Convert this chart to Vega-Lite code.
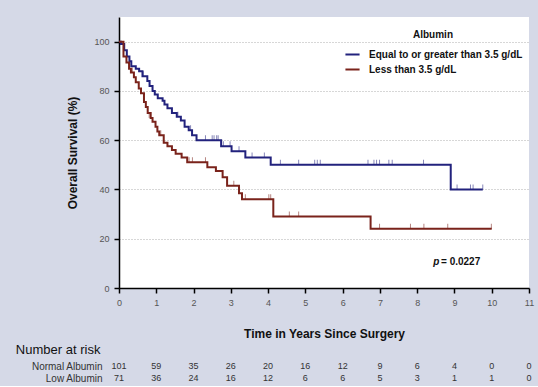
{
  "$schema": "https://vega.github.io/schema/vega-lite/v6.json",
  "background": "#d5d9e7",
  "padding": {"left": 15, "top": 17, "right": 6, "bottom": 2},
  "config": {"font": "Liberation Sans", "view": {"stroke": null}, "concat": {"spacing": 5}},
  "datasets": {
    "curves": [
      {"group": "Equal to or greater than 3.5 g/dL", "t": 0, "s": 100},
      {"group": "Equal to or greater than 3.5 g/dL", "t": 0.05, "s": 99},
      {"group": "Equal to or greater than 3.5 g/dL", "t": 0.14, "s": 96.5},
      {"group": "Equal to or greater than 3.5 g/dL", "t": 0.21, "s": 94},
      {"group": "Equal to or greater than 3.5 g/dL", "t": 0.28, "s": 92},
      {"group": "Equal to or greater than 3.5 g/dL", "t": 0.33, "s": 90},
      {"group": "Equal to or greater than 3.5 g/dL", "t": 0.45, "s": 89},
      {"group": "Equal to or greater than 3.5 g/dL", "t": 0.54, "s": 88},
      {"group": "Equal to or greater than 3.5 g/dL", "t": 0.63, "s": 86},
      {"group": "Equal to or greater than 3.5 g/dL", "t": 0.76, "s": 84},
      {"group": "Equal to or greater than 3.5 g/dL", "t": 0.82, "s": 82},
      {"group": "Equal to or greater than 3.5 g/dL", "t": 0.9, "s": 80},
      {"group": "Equal to or greater than 3.5 g/dL", "t": 0.96, "s": 78.5},
      {"group": "Equal to or greater than 3.5 g/dL", "t": 1.04, "s": 77},
      {"group": "Equal to or greater than 3.5 g/dL", "t": 1.17, "s": 76},
      {"group": "Equal to or greater than 3.5 g/dL", "t": 1.22, "s": 74.5},
      {"group": "Equal to or greater than 3.5 g/dL", "t": 1.3, "s": 73},
      {"group": "Equal to or greater than 3.5 g/dL", "t": 1.42, "s": 71},
      {"group": "Equal to or greater than 3.5 g/dL", "t": 1.55, "s": 69.5},
      {"group": "Equal to or greater than 3.5 g/dL", "t": 1.66, "s": 68},
      {"group": "Equal to or greater than 3.5 g/dL", "t": 1.76, "s": 65.5},
      {"group": "Equal to or greater than 3.5 g/dL", "t": 1.87, "s": 64},
      {"group": "Equal to or greater than 3.5 g/dL", "t": 1.96, "s": 62},
      {"group": "Equal to or greater than 3.5 g/dL", "t": 2.08, "s": 60},
      {"group": "Equal to or greater than 3.5 g/dL", "t": 2.74, "s": 57.5},
      {"group": "Equal to or greater than 3.5 g/dL", "t": 3.02, "s": 55.5},
      {"group": "Equal to or greater than 3.5 g/dL", "t": 3.39, "s": 53},
      {"group": "Equal to or greater than 3.5 g/dL", "t": 4.07, "s": 50},
      {"group": "Equal to or greater than 3.5 g/dL", "t": 8.9, "s": 40},
      {"group": "Equal to or greater than 3.5 g/dL", "t": 9.76, "s": 40},
      {"group": "Less than 3.5 g/dL", "t": 0, "s": 100},
      {"group": "Less than 3.5 g/dL", "t": 0.12, "s": 94},
      {"group": "Less than 3.5 g/dL", "t": 0.2, "s": 91.5},
      {"group": "Less than 3.5 g/dL", "t": 0.27, "s": 89},
      {"group": "Less than 3.5 g/dL", "t": 0.32, "s": 87.5},
      {"group": "Less than 3.5 g/dL", "t": 0.4, "s": 85.5},
      {"group": "Less than 3.5 g/dL", "t": 0.45, "s": 83.5},
      {"group": "Less than 3.5 g/dL", "t": 0.53, "s": 81},
      {"group": "Less than 3.5 g/dL", "t": 0.59, "s": 79},
      {"group": "Less than 3.5 g/dL", "t": 0.67, "s": 75.5},
      {"group": "Less than 3.5 g/dL", "t": 0.72, "s": 73.5},
      {"group": "Less than 3.5 g/dL", "t": 0.77, "s": 71},
      {"group": "Less than 3.5 g/dL", "t": 0.85, "s": 69},
      {"group": "Less than 3.5 g/dL", "t": 0.9, "s": 67.5},
      {"group": "Less than 3.5 g/dL", "t": 0.98, "s": 65.5},
      {"group": "Less than 3.5 g/dL", "t": 1.03, "s": 63.5},
      {"group": "Less than 3.5 g/dL", "t": 1.08, "s": 62},
      {"group": "Less than 3.5 g/dL", "t": 1.2, "s": 59},
      {"group": "Less than 3.5 g/dL", "t": 1.3, "s": 57.5},
      {"group": "Less than 3.5 g/dL", "t": 1.42, "s": 56},
      {"group": "Less than 3.5 g/dL", "t": 1.52, "s": 54.5},
      {"group": "Less than 3.5 g/dL", "t": 1.68, "s": 53},
      {"group": "Less than 3.5 g/dL", "t": 1.83, "s": 51},
      {"group": "Less than 3.5 g/dL", "t": 2.37, "s": 49},
      {"group": "Less than 3.5 g/dL", "t": 2.6, "s": 47.5},
      {"group": "Less than 3.5 g/dL", "t": 2.78, "s": 45},
      {"group": "Less than 3.5 g/dL", "t": 2.9, "s": 41.5},
      {"group": "Less than 3.5 g/dL", "t": 3.22, "s": 38.5},
      {"group": "Less than 3.5 g/dL", "t": 3.3, "s": 36},
      {"group": "Less than 3.5 g/dL", "t": 4.14, "s": 29},
      {"group": "Less than 3.5 g/dL", "t": 6.75, "s": 24},
      {"group": "Less than 3.5 g/dL", "t": 10, "s": 24}
    ],
    "censor": [
      {"group": "Equal to or greater than 3.5 g/dL", "t": 0.65, "s": 86},
      {"group": "Equal to or greater than 3.5 g/dL", "t": 1.58, "s": 69.5},
      {"group": "Equal to or greater than 3.5 g/dL", "t": 1.92, "s": 64},
      {"group": "Equal to or greater than 3.5 g/dL", "t": 2.32, "s": 60},
      {"group": "Equal to or greater than 3.5 g/dL", "t": 2.5, "s": 60},
      {"group": "Equal to or greater than 3.5 g/dL", "t": 2.55, "s": 60},
      {"group": "Equal to or greater than 3.5 g/dL", "t": 2.62, "s": 60},
      {"group": "Equal to or greater than 3.5 g/dL", "t": 2.66, "s": 60},
      {"group": "Equal to or greater than 3.5 g/dL", "t": 2.8, "s": 57.5},
      {"group": "Equal to or greater than 3.5 g/dL", "t": 2.98, "s": 57.5},
      {"group": "Equal to or greater than 3.5 g/dL", "t": 3.22, "s": 55.5},
      {"group": "Equal to or greater than 3.5 g/dL", "t": 3.57, "s": 53},
      {"group": "Equal to or greater than 3.5 g/dL", "t": 3.9, "s": 53},
      {"group": "Equal to or greater than 3.5 g/dL", "t": 4.33, "s": 50},
      {"group": "Equal to or greater than 3.5 g/dL", "t": 4.82, "s": 50},
      {"group": "Equal to or greater than 3.5 g/dL", "t": 5.25, "s": 50},
      {"group": "Equal to or greater than 3.5 g/dL", "t": 5.32, "s": 50},
      {"group": "Equal to or greater than 3.5 g/dL", "t": 5.4, "s": 50},
      {"group": "Equal to or greater than 3.5 g/dL", "t": 6.68, "s": 50},
      {"group": "Equal to or greater than 3.5 g/dL", "t": 6.84, "s": 50},
      {"group": "Equal to or greater than 3.5 g/dL", "t": 6.91, "s": 50},
      {"group": "Equal to or greater than 3.5 g/dL", "t": 6.99, "s": 50},
      {"group": "Equal to or greater than 3.5 g/dL", "t": 7.24, "s": 50},
      {"group": "Equal to or greater than 3.5 g/dL", "t": 7.33, "s": 50},
      {"group": "Equal to or greater than 3.5 g/dL", "t": 8.17, "s": 50},
      {"group": "Equal to or greater than 3.5 g/dL", "t": 9.07, "s": 40},
      {"group": "Equal to or greater than 3.5 g/dL", "t": 9.43, "s": 40},
      {"group": "Equal to or greater than 3.5 g/dL", "t": 9.5, "s": 40},
      {"group": "Equal to or greater than 3.5 g/dL", "t": 9.76, "s": 40},
      {"group": "Less than 3.5 g/dL", "t": 0.36, "s": 87.5},
      {"group": "Less than 3.5 g/dL", "t": 0.81, "s": 69},
      {"group": "Less than 3.5 g/dL", "t": 1.12, "s": 62},
      {"group": "Less than 3.5 g/dL", "t": 1.88, "s": 51},
      {"group": "Less than 3.5 g/dL", "t": 1.97, "s": 51},
      {"group": "Less than 3.5 g/dL", "t": 2.32, "s": 51},
      {"group": "Less than 3.5 g/dL", "t": 3.08, "s": 41.5},
      {"group": "Less than 3.5 g/dL", "t": 3.39, "s": 36},
      {"group": "Less than 3.5 g/dL", "t": 4.02, "s": 36},
      {"group": "Less than 3.5 g/dL", "t": 4.07, "s": 36},
      {"group": "Less than 3.5 g/dL", "t": 4.57, "s": 29},
      {"group": "Less than 3.5 g/dL", "t": 4.82, "s": 29},
      {"group": "Less than 3.5 g/dL", "t": 6.99, "s": 24},
      {"group": "Less than 3.5 g/dL", "t": 7.82, "s": 24},
      {"group": "Less than 3.5 g/dL", "t": 8.18, "s": 24},
      {"group": "Less than 3.5 g/dL", "t": 8.82, "s": 24},
      {"group": "Less than 3.5 g/dL", "t": 9.99, "s": 24}
    ],
    "risk": [
      {"row": "Normal Albumin", "t": 0, "n": 101},
      {"row": "Normal Albumin", "t": 1, "n": 59},
      {"row": "Normal Albumin", "t": 2, "n": 35},
      {"row": "Normal Albumin", "t": 3, "n": 26},
      {"row": "Normal Albumin", "t": 4, "n": 20},
      {"row": "Normal Albumin", "t": 5, "n": 16},
      {"row": "Normal Albumin", "t": 6, "n": 12},
      {"row": "Normal Albumin", "t": 7, "n": 9},
      {"row": "Normal Albumin", "t": 8, "n": 6},
      {"row": "Normal Albumin", "t": 9, "n": 4},
      {"row": "Normal Albumin", "t": 10, "n": 0},
      {"row": "Normal Albumin", "t": 11, "n": 0},
      {"row": "Low Albumin", "t": 0, "n": 71},
      {"row": "Low Albumin", "t": 1, "n": 36},
      {"row": "Low Albumin", "t": 2, "n": 24},
      {"row": "Low Albumin", "t": 3, "n": 16},
      {"row": "Low Albumin", "t": 4, "n": 12},
      {"row": "Low Albumin", "t": 5, "n": 6},
      {"row": "Low Albumin", "t": 6, "n": 6},
      {"row": "Low Albumin", "t": 7, "n": 5},
      {"row": "Low Albumin", "t": 8, "n": 3},
      {"row": "Low Albumin", "t": 9, "n": 1},
      {"row": "Low Albumin", "t": 10, "n": 1},
      {"row": "Low Albumin", "t": 11, "n": 0}
    ]
  },
  "vconcat": [
    {
      "width": 410,
      "height": 271,
      "view": {"fill": "white", "stroke": null},
      "encoding": {
        "x": {
          "field": "t", "type": "quantitative",
          "scale": {"domain": [0, 11], "nice": false},
          "axis": {
            "values": [0, 1, 2, 3, 4, 5, 6, 7, 8, 9, 10, 11], "tickCount": 12,
            "grid": false, "tickSize": 5, "tickWidth": 1.5, "tickColor": "black",
            "domainColor": "black", "domainWidth": 1.5,
            "labelFontSize": 9, "labelColor": "#555", "labelPadding": 5, "labelFlush": false, "labelOverlap": false,
            "title": "Time in Years Since Surgery", "titleFontSize": 12, "titleFontWeight": "bold",
            "titleColor": "#111", "titlePadding": 21
          }
        },
        "y": {
          "field": "s", "type": "quantitative",
          "scale": {"domain": [0, 110], "nice": false},
          "axis": {
            "values": [0, 20, 40, 60, 80, 100], "tickCount": 6,
            "grid": true, "gridDash": [1, 2], "gridColor": "#999", "gridWidth": 0.8,
            "tickSize": 5, "tickWidth": 1.5, "tickColor": "black",
            "domainColor": "black", "domainWidth": 1.5,
            "labelFontSize": 9, "labelColor": "#555", "labelPadding": 5, "labelOverlap": false,
            "title": "Overall Survival (%)", "titleFontSize": 12, "titleFontWeight": "bold",
            "titleColor": "#111", "titlePadding": 14
          }
        }
      },
      "layer": [
        {
          "data": {"name": "curves"},
          "mark": {"type": "line", "interpolate": "step-after", "strokeWidth": 2},
          "encoding": {
            "color": {
              "field": "group", "type": "nominal",
              "scale": {"domain": ["Equal to or greater than 3.5 g/dL", "Less than 3.5 g/dL"], "range": ["#22227d", "#7a231b"]},
              "legend": {
                "orient": "none", "legendX": 225, "legendY": 13,
                "title": "Albumin", "titleFontSize": 10, "titleFontWeight": "bold", "titleColor": "#111",
                "titleAnchor": "middle", "titleAlign": "center", "titlePadding": 6,
                "labelFontSize": 10, "labelFontWeight": "bold", "labelColor": "#111", "labelOffset": 8,
                "symbolType": "stroke", "symbolStrokeWidth": 2, "symbolSize": 200,
                "rowPadding": 1, "padding": 0
              }
            }
          }
        },
        {
          "data": {"name": "censor"},
          "mark": {"type": "tick", "orient": "vertical", "size": 5, "thickness": 1, "yOffset": -2.5, "opacity": 0.55},
          "encoding": {
            "color": {"field": "group", "type": "nominal", "legend": null}
          }
        },
        {
          "data": {"values": [{"label": "p", "t": 8.43, "s": 10.6}]},
          "mark": {"type": "text", "fontSize": 10, "fontWeight": "bold", "fontStyle": "italic", "align": "left", "baseline": "middle", "color": "#111"},
          "encoding": {"text": {"field": "label"}}
        },
        {
          "data": {"values": [{"label": "= 0.0227", "t": 8.64, "s": 10.6}]},
          "mark": {"type": "text", "fontSize": 10, "fontWeight": "bold", "align": "left", "baseline": "middle", "color": "#111"},
          "encoding": {"text": {"field": "label"}}
        }
      ]
    },
    {
      "width": 410,
      "height": 24,
      "view": {"fill": null, "stroke": null},
      "title": {"text": "Number at risk", "anchor": "start", "frame": "bounds", "fontSize": 13, "fontWeight": "normal", "color": "#111", "dx": -15, "offset": 3},
      "data": {"name": "risk"},
      "mark": {"type": "text", "fontSize": 9, "color": "#333"},
      "encoding": {
        "x": {"field": "t", "type": "quantitative", "scale": {"domain": [0, 11], "nice": false}, "axis": null},
        "y": {
          "field": "row", "type": "nominal", "sort": ["Normal Albumin", "Low Albumin"],
          "axis": {"title": null, "domain": false, "ticks": false, "labelPadding": 17, "labelFontSize": 10, "labelColor": "#333"}
        },
        "text": {"field": "n", "type": "quantitative"}
      }
    }
  ]
}
